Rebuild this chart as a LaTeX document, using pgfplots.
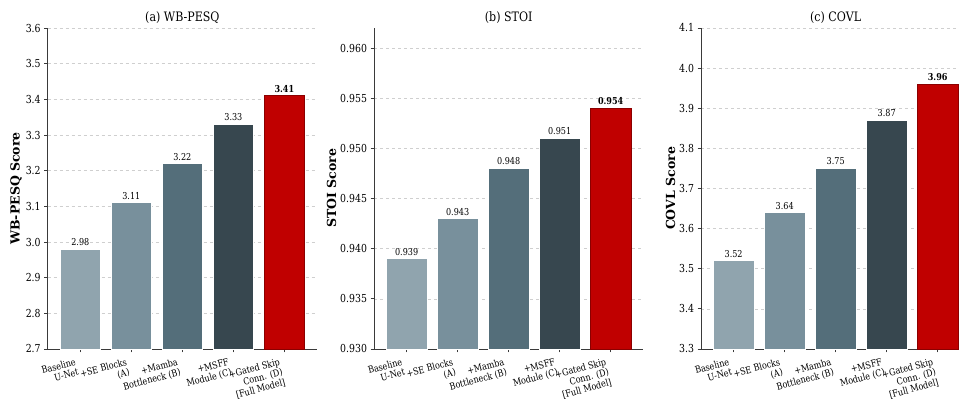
\documentclass[border=0pt]{standalone}
\usepackage{fontspec}
\setmainfont{DejaVu Serif}[FakeStretch=0.85]
\newfontfamily\ylabfont{DejaVu Serif}
\usepackage{pgfplots}
\pgfplotsset{compat=1.18}

\definecolor{barA}{HTML}{90A4AE}
\definecolor{barB}{HTML}{78909C}
\definecolor{barC}{HTML}{546E7A}
\definecolor{barD}{HTML}{37474F}
\definecolor{barE}{HTML}{C00000}
\definecolor{barEedge}{HTML}{8B0000}
\definecolor{spine}{HTML}{3A3A3A}
\definecolor{gridc}{HTML}{CFCFCF}

\pgfplotsset{
  /pgf/number format/assume math mode=true,
  ablation/.style={
    scale only axis, width=269.3pt, height=321pt, anchor=south west,
    xmin=-0.64, xmax=4.64, enlargelimits=false,
    axis x line*=bottom, axis y line*=left,
    axis line style={spine, line width=0.9pt, -},
    every tick/.style={spine, line width=0.8pt},
    tick align=outside, major tick length=3.5pt,
    xtick={0,1,2,3,4},
    xticklabels={{Baseline\\U-Net},{+SE Blocks\\(A)},{+Mamba\\Bottleneck (B)},{+MSFF\\Module (C)},{+Gated Skip\\Conn. (D)\\{[Full Model]}}},
    xticklabel style={xshift=-5pt, yshift=-4pt, rotate=15, anchor=north east,
      align=right, font=\fontsize{9.5}{10.5}\selectfont, inner sep=1pt},
    yticklabel style={font=\fontsize{11}{13}\selectfont},
    ymajorgrids, grid style={gridc, dashed, line width=0.6pt},
    title style={font=\fontsize{13}{15}\selectfont, yshift=-5pt},
    ylabel style={font=\ylabfont\bfseries\fontsize{12.5}{14}\selectfont},
    ylabel shift=-3pt,
    ybar, bar width=0.8, bar shift=0pt,
    nodes near coords style={font=\fontsize{9.5}{11}\selectfont, inner sep=3pt},
    clip=false,
  },
  greybar/.style={fill=#1, draw=white, line width=0.6pt},
  redbar/.style={fill=barE, draw=barEedge, line width=0.7pt,
    nodes near coords style={font=\bfseries\fontsize{9.5}{11}\selectfont}},
}

\begin{document}
\begin{tikzpicture}

% (a) WB-PESQ
\begin{axis}[ablation, at={(47.7pt,54pt)},
  ymin=2.7, ymax=3.6, ytick={2.7,2.8,...,3.61},
  yticklabel style={/pgf/number format/.cd, fixed, zerofill, precision=1},
  title={(a) WB-PESQ}, ylabel={WB-PESQ Score},
  nodes near coords={\pgfmathprintnumber[fixed,zerofill,precision=2]{\pgfplotspointmeta}}]
\addplot[greybar=barA] coordinates {(0,2.98)};
\addplot[greybar=barB] coordinates {(1,3.11)};
\addplot[greybar=barC] coordinates {(2,3.22)};
\addplot[greybar=barD] coordinates {(3,3.33)};
\addplot[redbar] coordinates {(4,3.41)};
\end{axis}

% (b) STOI
\begin{axis}[ablation, at={(374pt,54pt)},
  ymin=0.930, ymax=0.962, ytick={0.930,0.935,0.940,0.945,0.950,0.955,0.960},
  yticklabel style={/pgf/number format/.cd, fixed, zerofill, precision=3},
  title={(b) STOI}, ylabel={STOI Score},
  nodes near coords={\pgfmathprintnumber[fixed,zerofill,precision=3]{\pgfplotspointmeta}}]
\addplot[greybar=barA] coordinates {(0,0.939)};
\addplot[greybar=barB] coordinates {(1,0.943)};
\addplot[greybar=barC] coordinates {(2,0.948)};
\addplot[greybar=barD] coordinates {(3,0.951)};
\addplot[redbar] coordinates {(4,0.954)};
\end{axis}

% (c) COVL
\begin{axis}[ablation, at={(701pt,54pt)},
  ymin=3.3, ymax=4.1, ytick={3.3,3.4,...,4.11},
  yticklabel style={/pgf/number format/.cd, fixed, zerofill, precision=1},
  title={(c) COVL}, ylabel={COVL Score},
  nodes near coords={\pgfmathprintnumber[fixed,zerofill,precision=2]{\pgfplotspointmeta}}]
\addplot[greybar=barA] coordinates {(0,3.52)};
\addplot[greybar=barB] coordinates {(1,3.64)};
\addplot[greybar=barC] coordinates {(2,3.75)};
\addplot[greybar=barD] coordinates {(3,3.87)};
\addplot[redbar] coordinates {(4,3.96)};
\end{axis}

\pgfresetboundingbox
\path[use as bounding box] (0,0) rectangle (959pt,403pt);
\end{tikzpicture}
\end{document}
